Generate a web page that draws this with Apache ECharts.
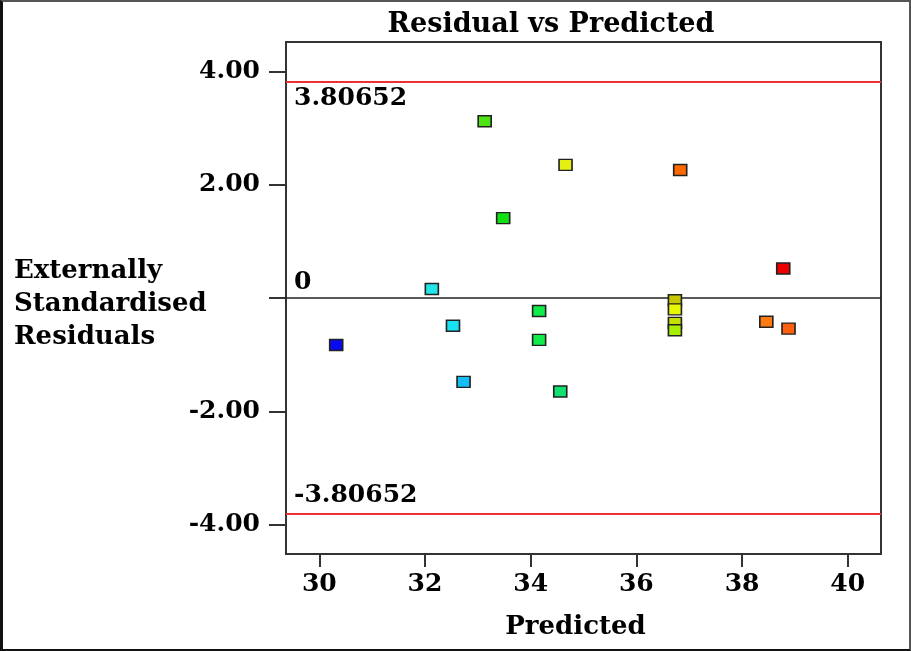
<!DOCTYPE html>
<html>
<head>
<meta charset="utf-8">
<script src="https://cdn.jsdelivr.net/npm/echarts@6/dist/echarts.min.js"></script>
<style>
  html, body { margin: 0; padding: 0; background: #fff; }
  #frame { position: absolute; left: 0; top: 0; width: 911px; height: 651px; box-sizing: border-box;
           border: 2px solid #555; border-left: 3px solid #111; border-bottom: 2px solid #111; }
  #chart { position: absolute; left: 0; top: 0; width: 911px; height: 651px; }
</style>
</head>
<body>
<div id="chart"></div>
<div id="frame"></div>
<script>
// ---- data ----
const predicted = [30.32, 32.13, 32.53, 32.73, 34.16, 34.16, 34.56, 33.13, 33.48, 34.66, 36.83, 38.78, 38.46, 38.88, 36.73, 36.73, 36.73, 36.73];
const residuals = [-0.83, 0.16, -0.49, -1.48, -0.23, -0.74, -1.65, 3.12, 1.41, 2.35, 2.26, 0.52, -0.42, -0.54, -0.04, -0.20, -0.44, -0.57];
const pointColors = ['#0a0aee', '#22e6ea', '#18e2f2', '#14bef2', '#12ec4a', '#12ec4a', '#12e070', '#4ee412', '#12e012', '#e4f012', '#ff6a00', '#ee0000', '#ff7a10', '#ff6010', '#c8c800', '#e8f800', '#c4e000', '#a8ee00'];
const limitValue = 3.80652;
const xTicks = [30, 32, 34, 36, 38, 40];
const yTicks = [-4, -2, 0, 2, 4];
const yTickLabels = ['-4.00', '-2.00', '', '2.00', '4.00'];
const titleText = 'Residual vs Predicted';
const xName = 'Predicted';
const yName = 'Externally\nStandardised\nResiduals';

const FONT = 'DejaVu Serif';
const chart = echarts.init(document.getElementById('chart'), null, { renderer: 'canvas' });

const points = predicted.map((x, i) => ({
  value: [x, residuals[i]],
  itemStyle: { color: pointColors[i] }
}));

chart.setOption({
  backgroundColor: '#fff',
  animation: false,
  title: [
    { text: titleText, left: 546, top: 6, textAlign: 'center',
      textStyle: { fontFamily: FONT, fontWeight: 'bold', fontSize: 27, color: '#000' } },
    { text: yName, left: 9, top: 250,
      textStyle: { fontFamily: FONT, fontWeight: 'bold', fontSize: 26, lineHeight: 33, color: '#000' } }
  ],
  grid: { left: 286, right: 30, top: 42, bottom: 97, show: true, borderColor: '#333', borderWidth: 2, backgroundColor: 'transparent' },
  xAxis: {
    type: 'value', min: 29.37, max: 40.63,
    name: xName, nameLocation: 'middle', nameGap: 60,
    nameTextStyle: { fontFamily: FONT, fontWeight: 'bold', fontSize: 26, color: '#000', padding: [0, 16, 0, 0] },
    splitLine: { show: false },
    axisLine: { show: true, onZero: false, lineStyle: { color: '#333', width: 2 } },
    axisTick: { show: true, length: 13, lineStyle: { color: '#333', width: 2 }, customValues: xTicks },
    axisLabel: { customValues: xTicks, margin: 18, fontFamily: FONT, fontWeight: 'bold', fontSize: 25, color: '#000' }
  },
  yAxis: {
    type: 'value', min: -4.52, max: 4.52,
    splitLine: { show: false },
    axisLine: { show: true, onZero: false, lineStyle: { color: '#333', width: 2 } },
    axisTick: { show: true, length: 17, lineStyle: { color: '#333', width: 2 }, customValues: yTicks },
    axisLabel: { customValues: yTicks, margin: 26, fontFamily: FONT, fontWeight: 'bold', fontSize: 25, color: '#000',
      formatter: v => { const i = yTicks.indexOf(v); return i >= 0 ? yTickLabels[i] : ''; } }
  },
  series: [{
    type: 'scatter',
    symbol: 'rect',
    symbolSize: [13, 11],
    itemStyle: { borderColor: '#222', borderWidth: 1.5, opacity: 1 },
    data: points,
    z: 5,
    markLine: {
      silent: true, symbol: 'none', animation: false,
      data: [
        { yAxis: limitValue, lineStyle: { color: '#f03030', width: 2, type: 'solid' },
          label: { show: true, formatter: String(limitValue), position: 'insideStartBottom', distance: [8, 4],
                   fontFamily: FONT, fontWeight: 'bold', fontSize: 25, color: '#000' } },
        { yAxis: -limitValue, lineStyle: { color: '#f03030', width: 2, type: 'solid' },
          label: { show: true, formatter: String(-limitValue), position: 'insideStartTop', distance: [8, 6],
                   fontFamily: FONT, fontWeight: 'bold', fontSize: 25, color: '#000' } },
        { yAxis: 0, lineStyle: { color: '#222', width: 1.5, type: 'solid' },
          label: { show: true, formatter: '0', position: 'insideStartTop', distance: [8, 3],
                   fontFamily: FONT, fontWeight: 'bold', fontSize: 25, color: '#000' } }
      ]
    }
  }]
});
</script>
</body>
</html>
